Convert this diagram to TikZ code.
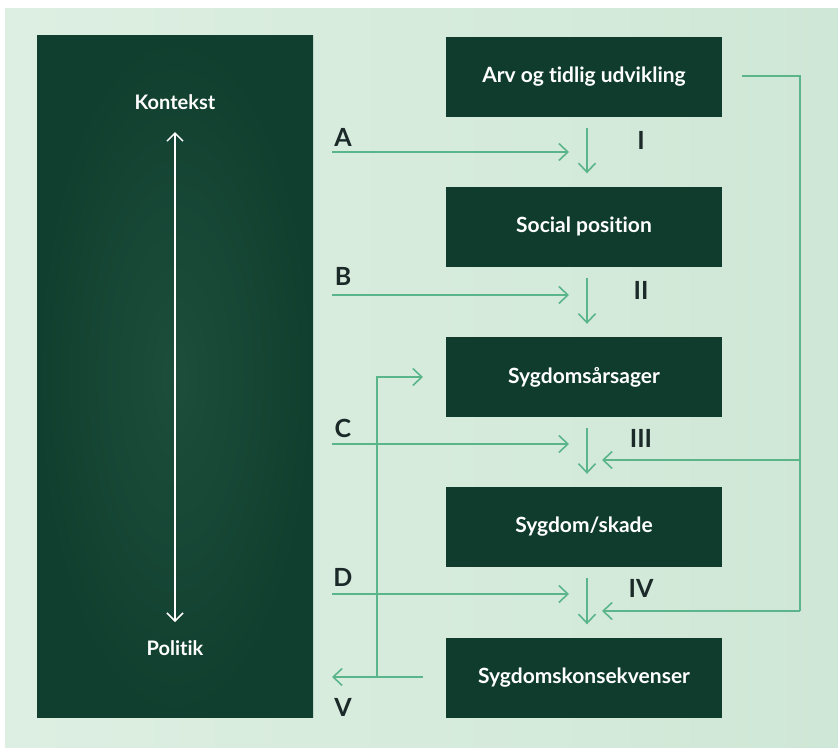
\documentclass[tikz,border=0pt]{standalone}
\usepackage{fontspec}
\setmainfont[Ligatures=NoCommon]{Lato}
\usetikzlibrary{arrows.meta,calc}
\definecolor{mint}{HTML}{CFE7D6}
\definecolor{mintlight}{HTML}{DDEFE2}
\definecolor{boxgreen}{HTML}{0F3C2D}
\definecolor{leftgreen}{HTML}{1C4E3B}
\definecolor{leftdark}{HTML}{113F2F}
\definecolor{arrowgreen}{HTML}{5BB58A}
\definecolor{labeldark}{HTML}{1B2A29}
\tikzset{
  stepbox/.style={draw=none, fill=boxgreen, minimum width=276pt, minimum height=80pt, inner sep=0pt,
    text=white, font=\fontsize{21}{24}\selectfont\bfseries},
  flow/.style={draw=arrowgreen, line width=1.6pt, -{Straight Barb[length=9pt,width=17pt,line width=1.6pt]}},
  plainflow/.style={draw=arrowgreen, line width=1.6pt},
  lbl/.style={text=labeldark, font=\fontsize{25}{27}\selectfont\bfseries, inner sep=0pt},
  ctxlbl/.style={text=white, font=\fontsize{20}{22}\selectfont\bfseries, inner sep=0pt},
}
\begin{document}
\begin{tikzpicture}[x=1pt,y=-1pt]
\useasboundingbox (0,0) rectangle (838,747);
\fill[white] (0,0) rectangle (838,747);
\shade[left color=mintlight, right color=mint] (5,8) rectangle (838,747);
% left panel
\shade[inner color=leftgreen, outer color=leftdark] (37,35) rectangle (313,717);
\node[ctxlbl] (ctx) at (175,102) {Kontekst};
\node[ctxlbl] (pol) at (175,648) {Politik};
\draw[white, line width=1.5pt, {Straight Barb[length=8pt,width=16pt,line width=1.5pt]}-{Straight Barb[length=8pt,width=16pt,line width=1.5pt]}] (175,132) -- (175,622);
% right boxes
\node[stepbox] (b1) at (584,76.5) {Arv og tidlig udvikling};
\node[stepbox] (b2) at (584,226.5) {Social position};
\node[stepbox] (b3) at (584,377) {Sygdomsårsager};
\node[stepbox] (b4) at (584,527) {Sygdom/skade};
\node[stepbox] (b5) at (584,677.5) {Sygdomskonsekvenser};
% down arrows
\foreach \a/\b in {b1/b2,b2/b3,b3/b4,b4/b5}{
  \draw[flow, shorten <=11pt, shorten >=13pt] ($(\a.south)+(3,0)$) -- ($(\b.north)+(3,0)$);
}
% side inputs
\coordinate (sA) at (332,152); \coordinate (eA) at (569,152);
\coordinate (sB) at (332,295); \coordinate (eB) at (569,295);
\coordinate (sC) at (332,444); \coordinate (eC) at (569,444);
\coordinate (sD) at (332,594); \coordinate (eD) at (569,594);
\foreach \k in {A,B,C,D}{ \draw[flow] (s\k) -- (e\k); }
\node[lbl] (lA) at (343,137) {A};
\node[lbl] (lB) at (343,276) {B};
\node[lbl] (lC) at (343,428) {C};
\node[lbl] (lD) at (343,577) {D};
\node[lbl] (r1) at (641,140) {I};
\node[lbl] (r2) at (641,290) {II};
\node[lbl] (r3) at (641,438) {III};
\node[lbl] (r4) at (641,588) {IV};
% feedback from b1 on the right
\coordinate (fs) at (742,76);
\coordinate (fc) at (800,76);
\coordinate (f3) at (800,460);
\coordinate (f4) at (800,611);
\coordinate (t3) at (602,460);
\coordinate (t4) at (602,611);
\draw[plainflow] (fs) -- (fc) -- (f4);
\draw[flow] (f3) -- (t3);
\draw[flow] (f4) -- (t4);
% V loop
\coordinate (vs) at (423,677);
\coordinate (vj) at (377,677);
\coordinate (vt) at (377,377);
\coordinate (ve) at (423,377);
\coordinate (vo) at (332,677);
\draw[flow] (vs) -- (vo);
\draw[flow] (vj) -- (vt) -- (ve);
\node[lbl] (lV) at (343,707) {V};
\end{tikzpicture}
\end{document}
